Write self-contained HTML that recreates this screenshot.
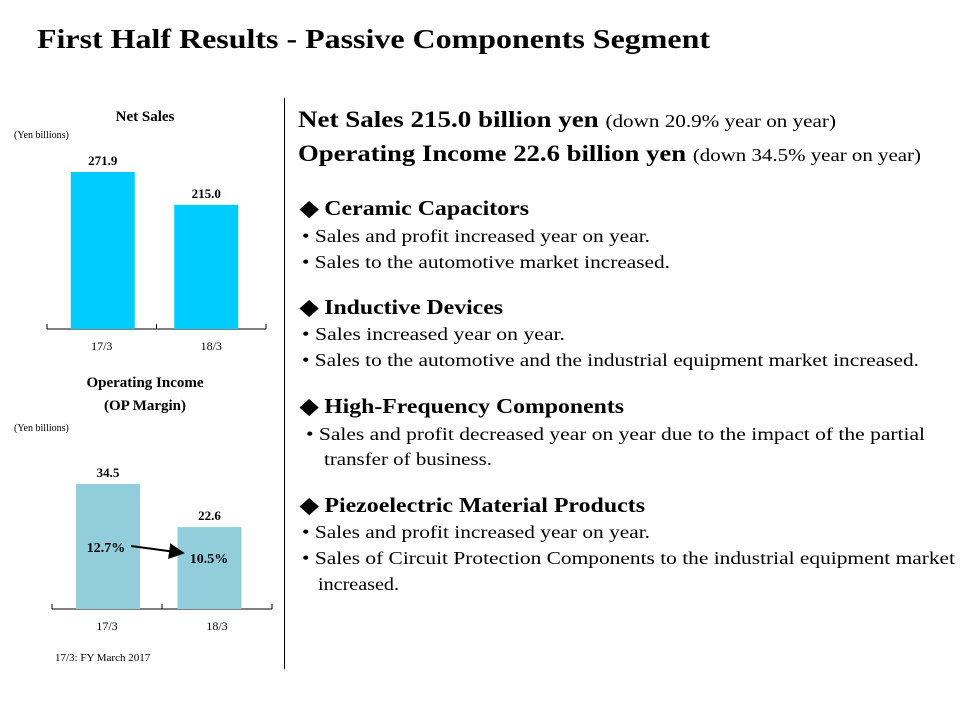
<!DOCTYPE html>
<html><head><meta charset="utf-8"><style>
body{margin:0;width:960px;height:720px;background:#fff;font-family:"Liberation Serif",serif;color:#000;position:relative;overflow:hidden}
.a{position:absolute;white-space:nowrap;transform-origin:0 0}
.h{font-size:21px;font-weight:bold}
.s{font-size:18px}
.hd{font-size:23px;font-weight:bold}
</style></head><body>
<div class="a fit" data-r="710" style="left:37px;top:24px;font-size:27px;font-weight:bold">First Half Results - Passive Components Segment</div>
<div class="a" style="left:284px;top:98px;width:1px;height:571px;background:#000"></div>
<svg class="a" style="left:0;top:0" width="284" height="720" font-family="Liberation Serif, serif">
<text x="145" y="121" text-anchor="middle" font-size="15" font-weight="bold">Net Sales</text>
<text x="14" y="138" font-size="10">(Yen billions)</text>
<text x="145" y="387" text-anchor="middle" font-size="15" font-weight="bold">Operating Income</text>
<text x="145" y="410" text-anchor="middle" font-size="15" font-weight="bold">(OP Margin)</text>
<text x="14" y="431" font-size="10">(Yen billions)</text>
<text x="55" y="661" font-size="11">17/3:  FY March 2017</text>
<g id="g1"></g><g id="g2"></g>
<defs><marker id="ah" markerWidth="8" markerHeight="8" refX="7" refY="4" orient="auto"><path d="M0,0L8,4L0,8z" fill="#000"/></marker></defs>
</svg>
<div class="a hd fit" data-r="836" style="left:298px;top:107px">Net Sales  215.0 billion yen <span style="font-weight:normal;font-size:18px">(down 20.9% year on year)</span></div>
<div class="a hd fit" data-r="921" style="left:298px;top:141px">Operating Income 22.6 billion yen <span style="font-weight:normal;font-size:18px">(down 34.5% year on year)</span></div>
<div class="a h fit" data-r="529" style="left:300px;top:196px">◆ Ceramic Capacitors</div>
<div class="a s fit" data-r="650" style="left:302px;top:226px">• Sales and profit increased year on year.</div>
<div class="a s fit" data-r="670" style="left:302px;top:252px">• Sales to the automotive market increased.</div>
<div class="a h fit" data-r="503" style="left:300px;top:295px">◆ Inductive Devices</div>
<div class="a s fit" data-r="565" style="left:302px;top:324px">• Sales increased year on year.</div>
<div class="a s fit" data-r="919" style="left:302px;top:350px">• Sales to the automotive and the industrial equipment market increased.</div>
<div class="a h fit" data-r="624" style="left:300px;top:394px">◆ High-Frequency Components</div>
<div class="a s fit" data-r="925" style="left:306px;top:424px">•  Sales and profit decreased  year on year due to the impact of the partial</div>
<div class="a s fit" data-r="492" style="left:324px;top:449px">transfer of business.</div>
<div class="a h fit" data-r="645" style="left:300px;top:493px">◆ Piezoelectric Material Products</div>
<div class="a s fit" data-r="650" style="left:302px;top:522px">• Sales and profit increased year on year.</div>
<div class="a s fit" data-r="955" style="left:302px;top:548px">• Sales of Circuit Protection Components to the industrial equipment market</div>
<div class="a s fit" data-r="399" style="left:318px;top:574px">increased.</div>
<script>
const categories=["17/3","18/3"];
const netSales=[271.9,215.0];
const opIncome=[34.5,22.6];
const opMargin=["12.7%","10.5%"];
const NS="http://www.w3.org/2000/svg";
function mk(p,t,a,txt){const e=document.createElementNS(NS,t);for(const k in a)e.setAttribute(k,a[k]);if(txt!=null)e.textContent=txt;p.appendChild(e);return e;}
function chart(g,vals,o){
  const y=v=>o.base-v*o.k;
  const bw=o.bw;
  mk(g,'line',{x1:o.x0,x2:o.x1,y1:o.base,y2:o.base,stroke:'#000'});
  const step=(o.x1-o.x0)/vals.length;
  for(let i=0;i<=vals.length;i++){mk(g,'line',{x1:o.x0+i*step,x2:o.x0+i*step,y1:o.base,y2:o.base-5,stroke:'#000'});}
  vals.forEach((v,i)=>{
    const c=o.x0+step*(i+0.5)+(i===0?o.off:o.off2);
    const r=mk(g,'rect',{x:c-bw/2,y:y(v),width:bw,height:o.base-y(v),fill:o.col});
    
    
    const t=mk(g,'text',{x:c,y:y(v)-7,'text-anchor':'middle','font-size':13,'font-weight':'bold'},v.toFixed(1));
    
    
    const l=mk(g,'text',{x:o.x0+step*(i+0.5),y:o.base+21,'text-anchor':'middle','font-size':12},categories[i]);
    
    
  });
}
chart(document.getElementById('g1'),netSales,{x0:47,x1:266,base:329,k:157/271.9,bw:64,col:'#00ccff',name:'net-sales',off:1,off2:-5});
chart(document.getElementById('g2'),opIncome,{x0:52,x1:272,base:609,k:125/34.5,bw:64,col:'#92cddc',name:'op-income',off:1,off2:-7.5});
const g2=document.getElementById('g2');
const m1=mk(g2,'text',{x:106,y:552,'text-anchor':'middle','font-size':14,'font-weight':'bold'},opMargin[0]);


const m2=mk(g2,'text',{x:209,y:563,'text-anchor':'middle','font-size':14,'font-weight':'bold'},opMargin[1]);


const ar=mk(g2,'line',{x1:131,y1:546,x2:183,y2:553,stroke:'#000','stroke-width':2,'marker-end':'url(#ah)'});


document.querySelectorAll('.fit').forEach(e=>{
  const l=parseFloat(e.style.left),w=e.getBoundingClientRect().width,r=parseFloat(e.dataset.r);
  if(w>0)e.style.transform='scaleX('+((r-l)/w)+')';
});
</script>
</body></html>
